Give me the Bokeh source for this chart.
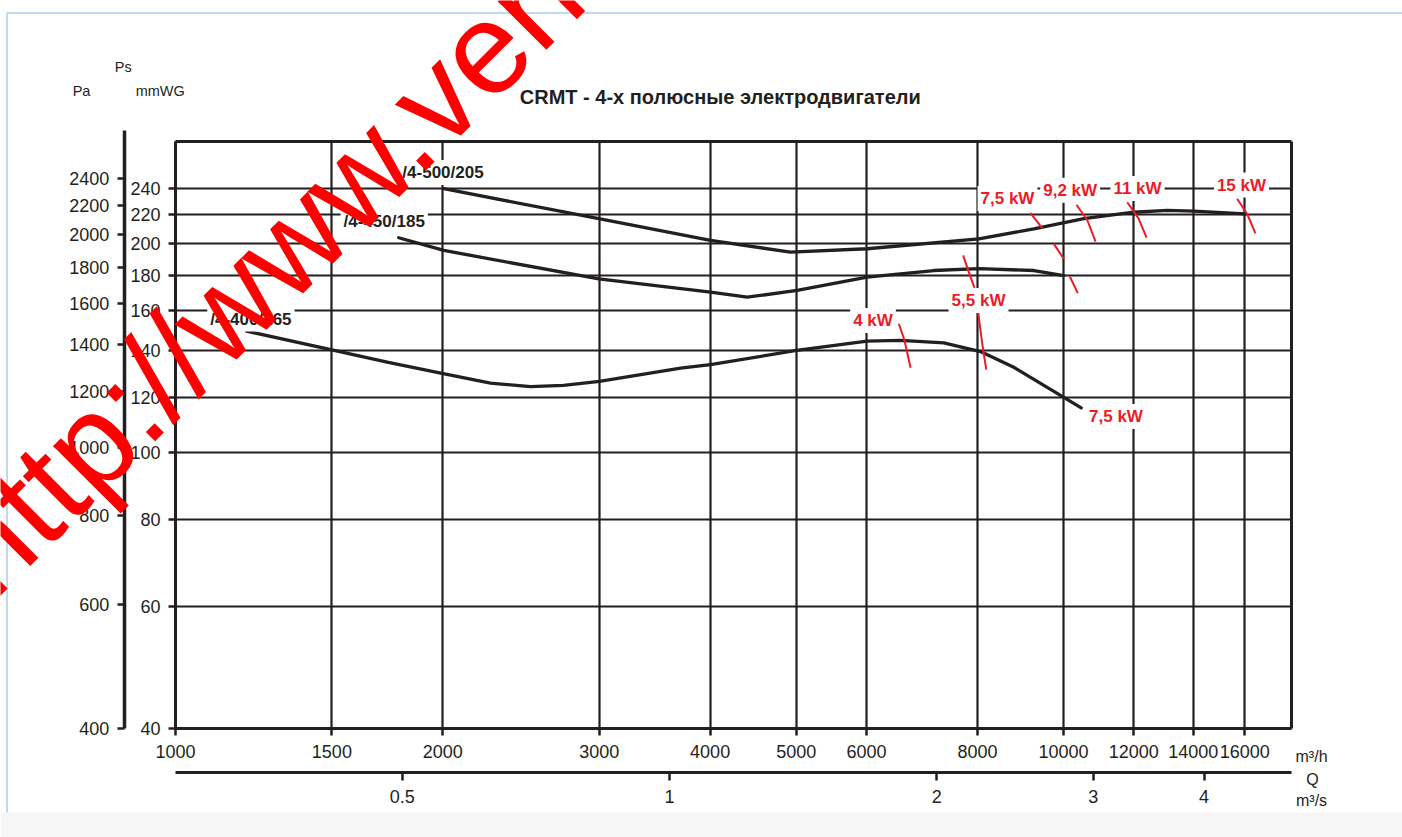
from math import pi
from bokeh.plotting import figure
from bokeh.models import (Range1d, LogScale, LogAxis, FixedTicker, Label, BoxAnnotation)
from bokeh.embed import file_html
from bokeh.resources import INLINE

# ---------------- data ----------------
X_TICKS = [1000, 1500, 2000, 3000, 4000, 5000, 6000, 8000, 10000, 12000, 14000, 16000]
X_TICK_LABELS = ["1000", "1500", "2000", "3000", "4000", "5000", "6000", "8000",
                 "10000", "12000", "14000", "16000"]
Y_TICKS_MM = [40, 60, 80, 100, 120, 140, 160, 180, 200, 220, 240]
Y_TICK_LABELS_MM = ["40", "60", "80", "100", "120", "140", "160", "180", "200", "220", "240"]
Y_TICKS_PA = [400, 600, 800, 1000, 1200, 1400, 1600, 1800, 2000, 2200, 2400]
Y_TICK_LABELS_PA = ["400", "600", "800", "1000", "1200", "1400", "1600", "1800", "2000",
                    "2200", "2400"]
Q_S_TICKS = [0.5, 1, 2, 3, 4]
Q_S_TICK_LABELS = ["0.5", "1", "2", "3", "4"]

# fan curves: Q [m3/h], Ps [mmWG]
q_400 = [1202, 1500, 1731, 2002, 2263, 2511, 2735, 3002, 3705, 4004, 5004, 6010, 6552,
         7332, 8064, 8790, 10008, 10469]
ps_400 = [149.5, 140.5, 134.9, 129.8, 125.8, 124.4, 124.9, 126.5, 132.2, 133.8, 140.2,
          144.6, 145.0, 143.8, 139.7, 132.6, 120.0, 115.9]

q_450 = [1784, 2005, 2997, 4004, 4404, 5013, 6010, 7144, 8029, 9261, 10008]
ps_450 = [203.8, 195.4, 177.8, 170.1, 167.3, 171.1, 178.8, 182.8, 183.9, 182.8, 179.8]

q_500 = [2005, 2997, 4004, 4926, 6010, 8029, 9261, 10541, 12000, 13089, 14021, 16032]
ps_500 = [239.8, 217.1, 202.0, 194.3, 196.5, 203.1, 209.9, 217.1, 221.8, 223.1, 222.6, 220.6]

# motor power limit arcs (red)
kw_q = [[6525, 6622, 6726],
        [8016, 8100, 8185],
        [7709, 7823, 7939],
        [9181, 9462],
        [9752, 10008],
        [10165, 10378],
        [10342, 10641, 10866],
        [11796, 12148, 12403],
        [15686, 16112, 16450]]
kw_ps = [[153.2, 144.9, 132.4],
         [158.9, 143.4, 131.6],
         [192.2, 181.8, 172.6],
         [221.1, 210.4],
         [199.7, 190.0],
         [179.2, 169.6],
         [227.4, 215.8, 201.2],
         [229.3, 217.3, 203.8],
         [231.9, 220.1, 206.8]]

# ---------------- layout / style ----------------
INK = "#231f20"
RED = "#ed1c24"
FONT = "Liberation Sans"
W, H = 1402, 837

# chart box (data) and where it sits on the page (px)
X_MIN, X_MAX = 1000, 18050
Y_MIN, Y_MAX = 40, 280.9
PA_MIN = 400
BOX_L, BOX_B = 175.0, 728.0
PX_PER_DEC_X, PX_PER_DEC_Y, PX_PER_DEC_PA = 888.0, 694.0, 706.5


def xd(px):
    return X_MIN * 10 ** ((px - BOX_L) / PX_PER_DEC_X)


def yd(py):
    return Y_MIN * 10 ** ((BOX_B - py) / PX_PER_DEC_Y)


def pad(py):
    return PA_MIN * 10 ** ((BOX_B - py) / PX_PER_DEC_PA)


p = figure(width=W, height=H, x_axis_type="log", y_axis_type="log",
           x_range=Range1d(xd(0), xd(W)), y_range=Range1d(yd(H), yd(0)),
           min_border=0, min_border_left=0, min_border_right=0, min_border_top=0,
           min_border_bottom=0, output_backend="svg", toolbar_location=None, title=None)
p.background_fill_color = "white"
p.border_fill_color = "white"
p.outline_line_color = None

p.extra_y_ranges = {"pa": Range1d(pad(H), pad(0))}
p.extra_y_scales = {"pa": LogScale()}
p.extra_x_ranges = {"qs": Range1d(xd(0) / 3600, xd(W) / 3600)}
p.extra_x_scales = {"qs": LogScale()}

# page decoration: blue frame + grey footer strip
p.add_layout(BoxAnnotation(left=xd(6.5), right=xd(W + 20), top=yd(12.5), bottom=yd(H + 20),
                           fill_color=None, line_color="#2f7fd0", line_width=2,
                           level="underlay"))
p.add_layout(BoxAnnotation(top=yd(812), fill_color="#f6f6f6", fill_alpha=1,
                           line_color=None, level="underlay"))


def style_axis(ax, ticks, labels, standoff=8, tick_out=7, size="18px"):
    ax.ticker = FixedTicker(ticks=ticks)
    ax.major_label_overrides = dict(zip(ticks, labels))
    ax.axis_line_color = INK
    ax.axis_line_width = 3
    ax.major_tick_line_color = INK
    ax.major_tick_line_width = 2.5
    ax.major_tick_in = 0
    ax.major_tick_out = tick_out
    ax.minor_tick_line_color = None
    ax.major_label_text_font = FONT
    ax.major_label_text_font_size = size
    ax.major_label_text_color = INK
    ax.major_label_standoff = standoff


xaxis = p.xaxis[0]
style_axis(xaxis, X_TICKS, X_TICK_LABELS, standoff=9)
xaxis.fixed_location = Y_MIN
xaxis.bounds = (X_MIN, X_MAX)

yaxis = p.yaxis[0]
style_axis(yaxis, Y_TICKS_MM, Y_TICK_LABELS_MM, standoff=8)
yaxis.fixed_location = X_MIN
yaxis.bounds = (Y_MIN, Y_MAX)

pa_axis = LogAxis(y_range_name="pa")
style_axis(pa_axis, Y_TICKS_PA, Y_TICK_LABELS_PA, standoff=8)
pa_axis.axis_line_width = 3.5
pa_axis.fixed_location = xd(123.7)
pa_axis.bounds = (PA_MIN, pad(130))
p.add_layout(pa_axis, "left")

qs_axis = LogAxis(x_range_name="qs")
style_axis(qs_axis, Q_S_TICKS, Q_S_TICK_LABELS, standoff=10, tick_out=8)
qs_axis.fixed_location = yd(771.7)
qs_axis.bounds = (X_MIN / 3600, X_MAX / 3600)
p.add_layout(qs_axis, "below")

top_axis = LogAxis()
style_axis(top_axis, [], [])
top_axis.fixed_location = Y_MAX
top_axis.bounds = (X_MIN, X_MAX)
p.add_layout(top_axis, "above")

right_axis = LogAxis()
style_axis(right_axis, [], [])
right_axis.fixed_location = X_MAX
right_axis.bounds = (Y_MIN, Y_MAX)
p.add_layout(right_axis, "right")

# grid limited to the chart box
xg, yg = p.xgrid[0], p.ygrid[0]
xg.ticker = FixedTicker(ticks=X_TICKS)
yg.ticker = FixedTicker(ticks=Y_TICKS_MM)
xg.bounds = (X_MIN, X_MAX)
yg.bounds = (Y_MIN, Y_MAX)
try:
    xg.cross_bounds = (Y_MIN, Y_MAX)
    yg.cross_bounds = (X_MIN, X_MAX)
    for g in (xg, yg):
        g.grid_line_color = INK
        g.grid_line_width = 2.2
except Exception:
    xg.visible = False
    yg.visible = False
    p.segment(x0=X_TICKS, y0=[Y_MIN] * len(X_TICKS), x1=X_TICKS, y1=[Y_MAX] * len(X_TICKS),
              line_color=INK, line_width=2.2)
    p.segment(x0=[X_MIN] * len(Y_TICKS_MM), y0=Y_TICKS_MM, x1=[X_MAX] * len(Y_TICKS_MM),
              y1=Y_TICKS_MM, line_color=INK, line_width=2.2)

# curves
for q, ps in [(q_400, ps_400), (q_450, ps_450), (q_500, ps_500)]:
    p.line(q, ps, line_color=INK, line_width=3.3, line_join="round", line_cap="round")

p.multi_line(xs=kw_q, ys=kw_ps, line_color=RED, line_width=2)


def add_label(text, x, y, color=INK, size="18px", bold=False, bg=None, font=FONT,
              align="center", baseline="middle", angle=0.0, padding=3):
    lab = Label(x=x, y=y, text=text, text_color=color, text_font=font,
                text_font_size=size, text_font_style="bold" if bold else "normal",
                text_align=align, text_baseline=baseline, angle=angle)
    if bg:
        lab.background_fill_color = bg
        lab.padding = padding
    p.add_layout(lab)
    return lab


# series labels
add_label("/4-500/205", 2001, 253.0, size="17px", bold=True, bg="white")
add_label("/4-450/185", 1718, 215.1, size="17px", bold=True, bg="white")
add_label("/4-400/165", 1216, 155.6, size="17px", bold=True, bg="white")

# power labels
for t, x, y in [("7,5 kW", 8648, 232.1), ("9,2 kW", 10174, 238.6), ("11 kW", 12116, 239.9),
                ("15 kW", 15864, 242.7), ("5,5 kW", 8023, 165.5), ("4 kW", 6102, 154.9),
                ("7,5 kW", 11457, 112.6)]:
    add_label(t, x, y, color=RED, size="17px", bold=True, bg="white")

# headers / title / unit labels
add_label("Ps", 873.1, 359.7, size="14.5px")
add_label("Pa", 783.7, 331.6, size="14.5px")
add_label("mmWG", 961.1, 331.6, size="14.5px")
add_label("CRMT  -  4-х полюсные электродвигатели", 4166, 325.3, size="20px", bold=True)
add_label("m³/h", 19025, 36.51, size="16px")
add_label("Q", 19073, 33.78, size="16px")
add_label("m³/s", 19025, 31.46, size="16px")

# watermark (rotated 45 degrees, anchored at the left end of its middle line)
add_label("http://www.ven", 574.2, 67.41, color="#ff0000", size="130px",
          align="left", baseline="middle", angle=pi / 4)

open("out.html", "w").write(file_html(p, INLINE))
